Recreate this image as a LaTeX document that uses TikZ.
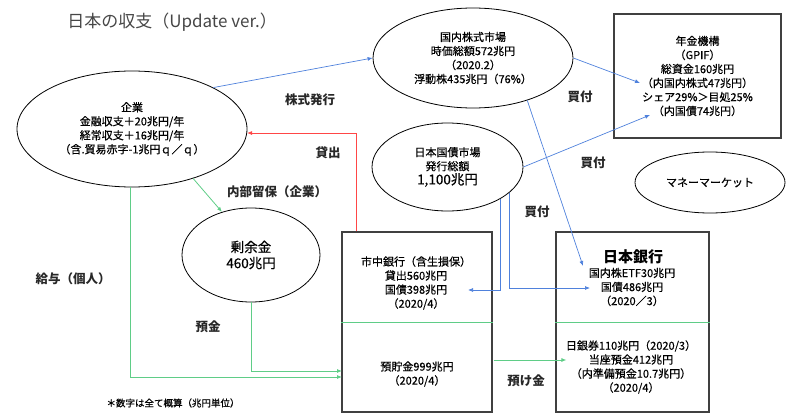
\documentclass[tikz,border=0pt]{standalone}
\usepackage{fontspec}
\setmainfont{Noto Sans CJK JP}
\newfontfamily\medfont{Noto Sans CJK JP}[FakeBold=0.5]
\usetikzlibrary{arrows.meta,calc,shapes.geometric}
\definecolor{bl}{RGB}{79,129,220}
\definecolor{rd}{RGB}{255,70,70}
\definecolor{gr}{RGB}{95,205,135}
\definecolor{bx}{RGB}{64,64,64}
\definecolor{tt}{RGB}{70,70,70}
\definecolor{lb}{RGB}{40,40,40}
\begin{document}
\begin{tikzpicture}[x=1pt,y=-1pt,
  ell/.style={draw=black,line width=0.8pt,ellipse,inner sep=0pt,align=center,font=\medfont\fontsize{11}{14}\selectfont},
  boxs/.style={draw=bx,line width=1.2pt,rectangle,inner sep=0pt},
  txt/.style={align=center,font=\medfont\fontsize{11}{14}\selectfont,inner sep=0pt},
  lbl/.style={font=\fontsize{12.5}{15}\selectfont\bfseries,text=lb,inner sep=0pt},
  barrow/.style={draw=bl,line width=0.7pt,-{Latex[length=5pt,width=4pt]}},
  rarrow/.style={draw=rd,line width=0.7pt,-{Latex[length=5pt,width=4pt]}},
  garrow/.style={draw=gr,line width=0.8pt,-{Latex[length=5pt,width=4pt]}},
  divl/.style={draw=gr,line width=0.6pt}
]
\useasboundingbox (0,0) rectangle (800,417);

\node[font=\fontsize{17}{20}\selectfont,text=tt,inner sep=0pt] (title) at (172,22) {日本の収支（Update ver.）};

\node[ell,minimum width=230pt,minimum height=116pt] (kigyo) at (132,129)
  {企業\\金融収支＋20兆円/年\\経常収支＋16兆円/年\\（含.貿易赤字-1兆円ｑ／ｑ）};
\node[ell,minimum width=200pt,minimum height=100pt] (kabu) at (473,58)
  {国内株式市場\\時価総額572兆円\\（2020.2）\\浮動株435兆円（76\%）};
\node[boxs,minimum width=167pt,minimum height=124pt,align=center,font=\medfont\fontsize{11}{14}\selectfont] (gpif) at (697.5,76)
  {年金機構\\（GPIF）\\総資金160兆円\\（内国内株式47兆円）\\シェア29\%＞目処25\%\\（内国債74兆円）};
\node[ell,minimum width=151pt,minimum height=88pt] (kokusai) at (447.5,167)
  {日本国債市場\\発行総額\\{\fontsize{13.5}{15}\selectfont 1,100兆円}};
\node[ell,minimum width=150pt,minimum height=61pt] (mm) at (710,182.5) {マネーマーケット};
\node[ell,minimum width=138pt,minimum height=94pt,font=\medfont\fontsize{13.5}{16}\selectfont] (yojo) at (251,255)
  {剰余金\\460兆円};

\node[boxs,minimum width=150pt,minimum height=180pt] (bank) at (417,322) {};
\node[boxs,minimum width=153pt,minimum height=180pt] (boj) at (632.5,322) {};
\draw[divl] (bank.west) -- (bank.east);
\draw[divl] (boj.west) -- (boj.east);

\node[txt] (banka) at (416,283) {市中銀行（含生損保）\\貸出560兆円\\国債398兆円\\（2020/4）};
\node[txt] (bankb) at (417,374) {預貯金999兆円\\（2020/4）};
\node[font=\fontsize{15}{18}\selectfont\bfseries,inner sep=0pt] (bojt) at (633,257) {日本銀行};
\node[txt] (boja) at (632,287) {国内株ETF30兆円\\国債486兆円\\（2020／3）};
\node[txt] (bojb) at (631,367) {日銀券110兆円（2020/3）\\当座預金412兆円\\（内準備預金10.7兆円）\\（2020/4）};

\node[lbl] (l1) at (310,100) {株式発行};
\node[lbl] (l2) at (328,153) {貸出};
\node[lbl] (l3) at (277,192) {内部留保（企業）};
\node[lbl] (l4) at (73,279) {給与（個人）};
\node[lbl] (l5) at (208,327) {預金};
\node[lbl] (l6) at (580,97) {買付};
\node[lbl] (l7) at (593,163) {買付};
\node[lbl] (l8) at (537,212) {買付};
\node[lbl] (l9) at (526,381) {預け金};
\node[font=\medfont\fontsize{9.5}{11}\selectfont,inner sep=0pt] (note) at (173,403) {＊数字は全て概算（兆円単位）};

\coordinate (gp1) at (640,83);
\coordinate (gp2) at (650,115);
\coordinate (bj1) at (583,266);
\coordinate (bj2) at (590,288);
\coordinate (bk1) at (468,290);
\coordinate (g1) at (342,377);
\coordinate (g2) at (342,371);

\draw[barrow] (kigyo.27) -- (kabu.west);
\draw[barrow] (kabu.east) -- (gp1);
\draw[barrow] (kokusai.east) -- (gp2);
\draw[barrow] (kabu.-38) -- (bj1);
\draw[barrow] (kokusai.-31) |- (bk1);
\draw[barrow] (kokusai.-23.5) |- (bj2);
\draw[rarrow] ($(bank.north west)+(15,0)$) |- (kigyo.-2);
\draw[garrow] (kigyo.-39) -- (yojo.124);
\draw[garrow] (kigyo.-92) |- (g1);
\draw[garrow] (yojo.south) |- (g2);
\draw[garrow] ($(bank.east)+(1,38)$) -- ($(boj.west)+(11,38)$);
\end{tikzpicture}
\end{document}
